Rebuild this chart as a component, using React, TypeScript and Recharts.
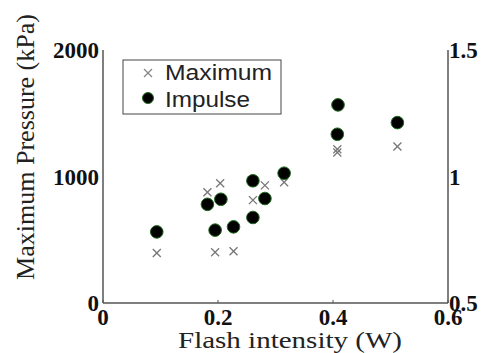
import React from 'react';
import { ScatterChart, Scatter, XAxis, YAxis } from 'recharts';

const xTicks = [0, 0.2, 0.4, 0.6];
const leftTicks = [0, 1000, 2000];
const rightTicks = [0.5, 1, 1.5];

const maxX = [0.0935, 0.1816, 0.2038, 0.195, 0.227, 0.2607, 0.2816, 0.315, 0.4075, 0.4075, 0.512];
const maxY = [395, 875, 946, 401, 409, 813, 930, 954, 1190, 1215, 1237];

const impX = [0.0935, 0.1816, 0.205, 0.195, 0.227, 0.2607, 0.2607, 0.2816, 0.315, 0.4087, 0.4075, 0.512];
const impY = [0.781, 0.89, 0.91, 0.788, 0.801, 0.838, 0.983, 0.913, 1.013, 1.283, 1.167, 1.213];

const maxData = maxX.map((x, i) => ({ x, y: maxY[i] }));
const impData = impX.map((x, i) => ({ x, y: impY[i] }));

const FRAME = '#555';
const SERIF = 'Liberation Serif, Times New Roman, Tinos, DejaVu Serif, serif';
const SANS = 'Liberation Sans, Arial, Arimo, Helvetica, sans-serif';
const TICKFONT = { fontFamily: SERIF, fontWeight: 700, fontSize: 23, fill: '#111' };

const CrossShape = (p: any) => {
  const { cx, cy } = p;
  const s = 4;
  return (
    <g stroke="#777" strokeWidth={1.3}>
      <line x1={cx - s} y1={cy - s} x2={cx + s} y2={cy + s} />
      <line x1={cx - s} y1={cy + s} x2={cx + s} y2={cy - s} />
    </g>
  );
};

const DotShape = (p: any) => {
  const { cx, cy } = p;
  return <circle cx={cx} cy={cy} r={6.3} fill="#000" stroke="#1d6b1d" strokeWidth={1} />;
};

const BottomTick = (p: any) => {
  const { x, y, payload } = p;
  return (
    <g>
      <line x1={x} y1={y} x2={x} y2={y - 3} stroke={FRAME} strokeWidth={1} />
      <text x={x} y={y + 22} textAnchor="middle" {...TICKFONT}>{String(payload.value)}</text>
    </g>
  );
};

const TopTick = (p: any) => {
  const { x, y } = p;
  return <line x1={x} y1={y} x2={x} y2={y + 3} stroke={FRAME} strokeWidth={1} />;
};

const LeftTick = (p: any) => {
  const { x, y, payload } = p;
  return (
    <text x={x - 4} y={y + 8} textAnchor="end" {...TICKFONT}>{String(payload.value)}</text>
  );
};

const RightTick = (p: any) => {
  const { x, y, payload } = p;
  return (
    <text x={x + 1} y={y + 8} textAnchor="start" {...TICKFONT}>{String(payload.value)}</text>
  );
};

export default function App() {
  return (
    <div style={{ position: 'absolute', left: 0, top: 0, width: 482, height: 353, background: '#fff' }}>
      <ScatterChart width={482} height={353} margin={{ top: 50, right: 0, bottom: 0, left: 0 }}>
        <XAxis
          xAxisId="b"
          type="number"
          dataKey="x"
          domain={[0, 0.6]}
          ticks={xTicks}
          orientation="bottom"
          height={50}
          axisLine={{ stroke: FRAME, strokeWidth: 1.5 }}
          tickLine={false}
          tickSize={0}
          tickMargin={0}
          tick={BottomTick}
          interval={0}
          allowDataOverflow
        />
        <XAxis
          xAxisId="t"
          type="number"
          dataKey="x"
          domain={[0, 0.6]}
          ticks={xTicks}
          orientation="top"
          height={0}
          axisLine={{ stroke: FRAME, strokeWidth: 1.5 }}
          tickLine={false}
          tickSize={0}
          tickMargin={0}
          tick={TopTick}
          interval={0}
          allowDataOverflow
        />
        <YAxis
          yAxisId="l"
          type="number"
          dataKey="y"
          domain={[0, 2000]}
          ticks={leftTicks}
          width={103}
          axisLine={{ stroke: FRAME, strokeWidth: 1.5 }}
          tickLine={false}
          tickSize={0}
          tickMargin={0}
          tick={LeftTick}
          interval={0}
          allowDataOverflow
        />
        <YAxis
          yAxisId="r"
          type="number"
          dataKey="y"
          orientation="right"
          domain={[0.5, 1.5]}
          ticks={rightTicks}
          width={34}
          axisLine={{ stroke: FRAME, strokeWidth: 1.5 }}
          tickLine={false}
          tickSize={0}
          tickMargin={0}
          tick={RightTick}
          interval={0}
          allowDataOverflow
        />
        <Scatter name="Maximum" xAxisId="b" yAxisId="l" data={maxData} shape={CrossShape} isAnimationActive={false} />
        <Scatter name="Impulse" xAxisId="b" yAxisId="r" data={impData} shape={DotShape} isAnimationActive={false} />

        <text
          x={34}
          y={280}
          transform="rotate(-90, 34, 280)"
          fontFamily={SERIF}
          fontSize={26}
          fill="#222"
          textLength={266}
          lengthAdjust="spacingAndGlyphs"
        >
          Maximum Pressure (kPa)
        </text>
        <text
          x={178}
          y={348}
          fontFamily={SERIF}
          fontSize={24}
          fill="#222"
          textLength={224}
          lengthAdjust="spacingAndGlyphs"
        >
          Flash intensity (W)
        </text>

        <g>
          <rect x={123} y={60} width={158} height={54} fill="#fff" stroke="#444" strokeWidth={1} />
          <g stroke="#888" strokeWidth={1.2}>
            <line x1={144} y1={69} x2={152} y2={77} />
            <line x1={144} y1={77} x2={152} y2={69} />
          </g>
          <circle cx={148} cy={98} r={5.5} fill="#000" stroke="#1d6b1d" strokeWidth={1} />
          <text x={165} y={80} fontFamily={SANS} fontSize={22} fill="#222" textLength={107} lengthAdjust="spacingAndGlyphs">Maximum</text>
          <text x={165} y={106.5} fontFamily={SANS} fontSize={22} fill="#222" textLength={85} lengthAdjust="spacingAndGlyphs">Impulse</text>
        </g>
      </ScatterChart>
    </div>
  );
}
